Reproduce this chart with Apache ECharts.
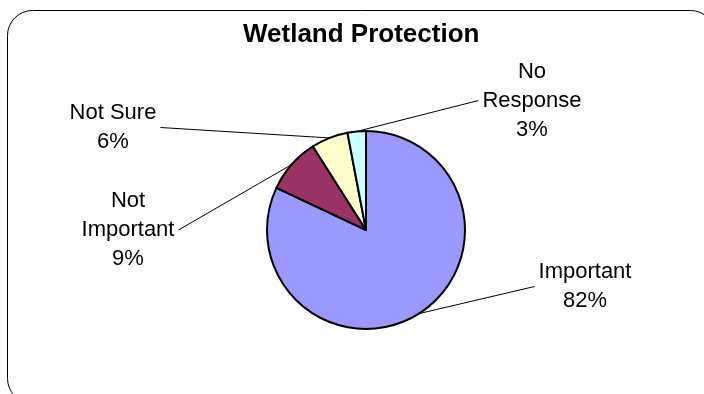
<!DOCTYPE html>
<html>
<head>
<meta charset="utf-8">
<script src="https://cdn.jsdelivr.net/npm/echarts@6/dist/echarts.min.js"></script>
<style>
  html, body { margin: 0; padding: 0; background: #ffffff; }
  #chart { width: 704px; height: 394px; }
</style>
</head>
<body>
<div id="chart"></div>
<script>
// Survey answers: how important is wetland protection?
const categories = ['Important', 'Not Important', 'Not Sure', 'No Response'];
const shares = [82, 9, 6, 3];
const labelNames = ['Important', 'Not\nImportant', 'Not Sure', 'No\nResponse'];

// Styling and layout
const sliceColors = ['#9999FF', '#993366', '#FFFFCC', '#CCFFFF'];
const PIE_CENTER = [366, 230];
const PIE_RADIUS = 99;
// centre of each label block, in pixels
const labelCenters = [[585, 286.5], [128, 230], [113, 127.5], [532, 100.5]];
const FONT = '"Liberation Sans", Arial, sans-serif';

const chart = echarts.init(document.getElementById('chart'), null, { renderer: 'canvas' });

chart.setOption({
  backgroundColor: '#ffffff',
  animation: false,
  title: {
    text: 'Wetland Protection',
    left: 243,
    top: 22,
    padding: 0,
    textStyle: { fontFamily: FONT, fontSize: 26, fontWeight: 'bold', color: '#000000', lineHeight: 26 }
  },
  graphic: [{
    type: 'rect',
    silent: true,
    shape: { x: 7.5, y: 10.5, width: 708, height: 393, r: 25 },
    style: { fill: 'none', stroke: '#000000', lineWidth: 1 }
  }],
  series: [{
    type: 'pie',
    center: PIE_CENTER,
    radius: PIE_RADIUS,
    startAngle: 90,
    clockwise: true,
    avoidLabelOverlap: false,
    data: categories.map((name, i) => ({
      name: name,
      value: shares[i],
      itemStyle: { color: sliceColors[i] }
    })),
    itemStyle: { borderColor: '#000000', borderWidth: 2 },
    emphasis: { disabled: true },
    label: {
      show: true,
      position: 'outside',
      fontFamily: FONT,
      fontSize: 22,
      lineHeight: 29,
      color: '#000000',
      align: 'center',
      formatter: p => labelNames[p.dataIndex] + '\n' + Math.round(p.percent) + '%'
    },
    labelLine: {
      show: true,
      length: 6,
      length2: 6,
      smooth: false,
      lineStyle: { color: '#000000', width: 1 }
    },
    labelLayout: function (params) {
      const c = labelCenters[params.dataIndex];
      const w = params.labelRect.width;
      const onLeft = c[0] < PIE_CENTER[0];
      const ax = onLeft ? c[0] + w / 2 + 4 : c[0] - w / 2 - 4;
      const out = { x: c[0], y: c[1], align: 'center', verticalAlign: 'middle' };
      const pts = params.labelLinePoints;
      if (pts && pts[0]) {
        out.labelLinePoints = [pts[0], [ax, c[1]], [ax, c[1]]];
      }
      return out;
    }
  }]
});
</script>
</body>
</html>
